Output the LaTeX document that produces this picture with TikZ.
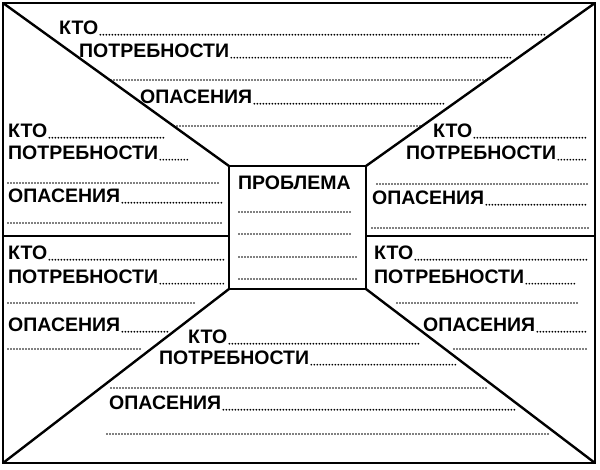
\documentclass[tikz,border=0pt]{standalone}
\usepackage{fontspec}
\setmainfont{Liberation Sans}
\begin{document}
\begin{tikzpicture}[x=1pt,y=-1pt,
  lbl/.style={anchor=west,inner sep=0pt,font=\bfseries\fontsize{19.5}{19.5}\selectfont},
  dots/.style={line width=1.9pt,line cap=round,dash pattern=on 0pt off 3pt},
  frame/.style={line width=2.4pt}]
\useasboundingbox (0,0) rectangle (600,469);
\newcommand\kt[5]{\node[lbl] (#1) at (#2,#3) {#4};
  \coordinate (#1e) at (#5,0);
  \draw[dots] ([xshift=2pt]#1.base east) -- (#1.base east -| #1e);}
\newcommand\dl[4]{\coordinate (#1a) at (#2,#4); \coordinate (#1b) at (#3,#4);
  \draw[dots] (#1a) -- (#1b);}
% frame
\coordinate (TL) at (3,3); \coordinate (TR) at (595,3);
\coordinate (BL) at (3,463); \coordinate (BR) at (595,463);
\coordinate (cTL) at (229,166); \coordinate (cTR) at (366,166);
\coordinate (cBL) at (229,289); \coordinate (cBR) at (366,289);
\coordinate (mL) at (3,236); \coordinate (mR) at (595,236);
\draw[frame] (TL) rectangle (BR);
\draw[frame] (cTL) rectangle (cBR);
\draw[frame] (TL) -- (cTL) (TR) -- (cTR) (BL) -- (cBL) (BR) -- (cBR);
\draw[frame] (mL) -- (mL -| cTL) (cTR |- mR) -- (mR);
% centre
\node[lbl] (pr) at (238,183) {ПРОБЛЕМА};
\dl{c1}{239}{350}{212} \dl{c2}{239}{350}{234}
\dl{c3}{239}{356}{257} \dl{c4}{239}{356}{279}
% top
\kt{t1}{59}{28}{КТО}{546}
\kt{t2}{79}{51}{ПОТРЕБНОСТИ}{513}
\dl{t3}{111}{487}{80}
\kt{t4}{140}{97}{ОПАСЕНИЯ}{446}
\dl{t5}{174}{421}{126}
% left upper
\kt{l1}{8}{131}{КТО}{165}
\kt{l2}{8}{153}{ПОТРЕБНОСТИ}{190}
\dl{l3}{8}{220}{183}
\kt{l4}{8}{196}{ОПАСЕНИЯ}{222}
\dl{l5}{8}{222}{223}
% right upper
\kt{r1}{433}{131}{КТО}{588}
\kt{r2}{406}{153}{ПОТРЕБНОСТИ}{588}
\dl{r3}{377}{588}{184}
\kt{r4}{372}{198}{ОПАСЕНИЯ}{586}
\dl{r5}{372}{588}{228}
% left lower
\kt{a1}{8}{253}{КТО}{224}
\kt{a2}{8}{277}{ПОТРЕБНОСТИ}{224}
\dl{a3}{8}{195}{303}
\kt{a4}{8}{325}{ОПАСЕНИЯ}{169}
\dl{a5}{8}{142}{349}
% right lower
\kt{b1}{374}{253}{КТО}{588}
\kt{b2}{374}{277}{ПОТРЕБНОСТИ}{577}
\dl{b3}{397}{577}{303}
\kt{b4}{423}{325}{ОПАСЕНИЯ}{588}
\dl{b5}{454}{588}{349}
% bottom
\kt{d1}{188}{337}{КТО}{420}
\kt{d2}{159}{358}{ПОТРЕБНОСТИ}{458}
\dl{d3}{111}{487}{388}
\kt{d4}{109}{403}{ОПАСЕНИЯ}{515}
\dl{d5}{107}{548}{434}
\end{tikzpicture}
\end{document}
